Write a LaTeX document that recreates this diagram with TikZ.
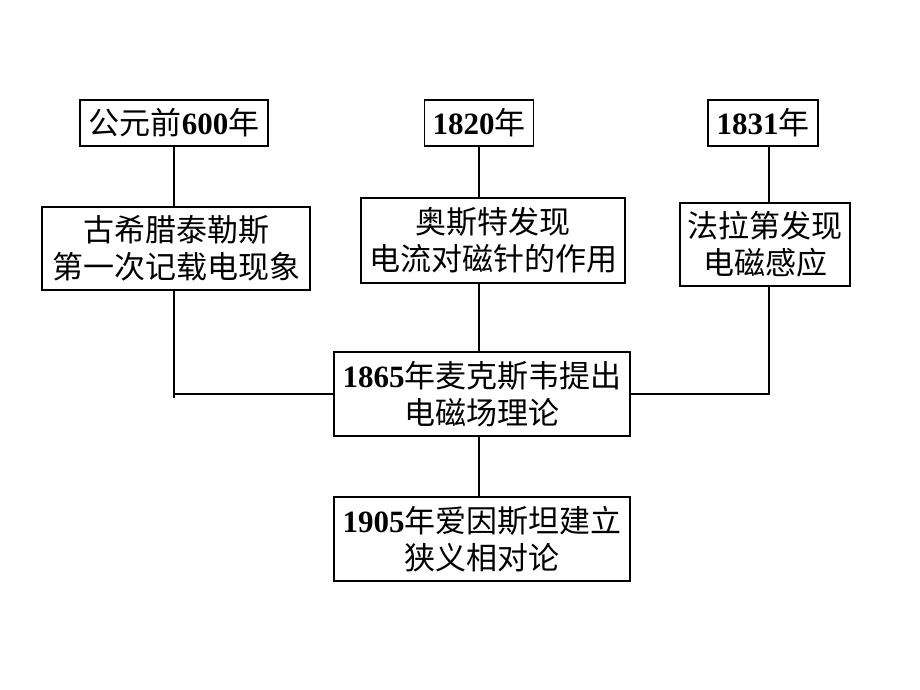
\documentclass[tikz,border=0pt]{standalone}
\usepackage{fontspec}
\setmainfont{Liberation Serif}
\newfontfamily\cjk{Noto Sans CJK SC}
\newcommand{\yr}[1]{{\rmfamily\bfseries #1}}
\usetikzlibrary{positioning}

\begin{document}
\begin{tikzpicture}[x=0.5pt,y=-0.5pt,
		box/.style={draw=black,line width=0.6pt,inner sep=0pt,align=center,
			font=\cjk\fontsize{15.5}{18.5}\selectfont},
		link/.style={draw=black,line width=0.6pt}]
		\useasboundingbox (0,0) rectangle (920,690);

		% top row: the years
		\node[box,minimum width=94pt,minimum height=23pt] (a1) at (174,123) {公元前\yr{600}年};
		\node[box,minimum width=54.5pt,minimum height=23pt] (b1) at (479,123) {\yr{1820}年};
		\node[box,minimum width=55pt,minimum height=23pt] (c1) at (763,123) {\yr{1831}年};

		% second row: the discoveries
		\node[box,minimum width=134pt,minimum height=41.5pt] (a2) at (176,248.5) {古希腊泰勒斯\\第一次记载电现象};
		\node[box,minimum width=132pt,minimum height=42.5pt] (b2) at (493,240.5) {奥斯特发现\\电流对磁针的作用};
		\node[box,minimum width=85pt,minimum height=41.5pt] (c2) at (765,244.5) {法拉第发现\\电磁感应};

		\node[box,minimum width=148pt,minimum height=42pt] (d) at (482,394) {\yr{1865}年麦克斯韦提出\\电磁场理论};
		\node[box,minimum width=148pt,minimum height=42pt] (e) at (482,539) {\yr{1905}年爱因斯坦建立\\狭义相对论};

		\coordinate (ax) at (174,0);
		\coordinate (bx) at (479,0);
		\coordinate (cx) at (769,0);

		\draw[link] (ax |- a1.south) -- (ax |- a2.north);
		\draw[link] (bx |- b1.south) -- (bx |- b2.north);
		\draw[link] (cx |- c1.south) -- (cx |- c2.north);
		\draw[link] (ax |- a2.south) |- (d.west);
		\draw[link] (ax |- d.west) -- ++(0,-2pt);
		\draw[link] (bx |- b2.south) -- (bx |- d.north);
		\draw[link] (cx |- c2.south) |- (d.east);
		\draw[link] (bx |- d.south) -- (bx |- e.north);
\end{tikzpicture}
\end{document}
